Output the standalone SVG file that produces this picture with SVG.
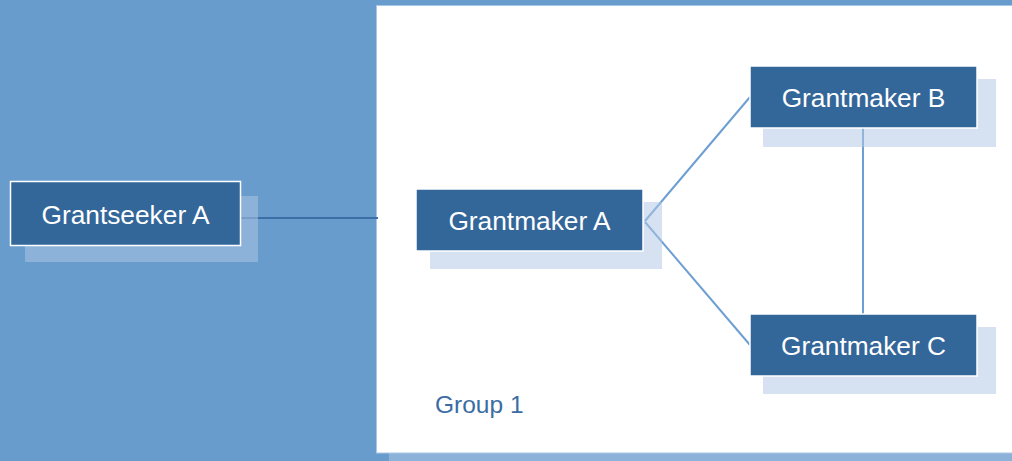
<svg xmlns="http://www.w3.org/2000/svg" width="1012" height="461" viewBox="0 0 1012 461">
<style>
.shadow{fill:#B1C8E4;fill-opacity:0.52}
.box{fill:#336699;stroke:#ffffff;stroke-width:1.5}
.lbl{font-family:"Liberation Sans",Arial,sans-serif;font-size:26.3px;fill:#ffffff;text-anchor:middle}
.conn{stroke:#6E9FD2;stroke-width:2;fill:none}
</style>
<rect x="0" y="0" width="1012" height="461" fill="#689CCD"/>
<g id="group1">
<rect class="shadow" x="389" y="18" width="640" height="448"/>
<rect x="376.5" y="5.5" width="640" height="447.5" fill="#ffffff" stroke="#A9C7E6" stroke-width="1"/>
<text x="435" y="413" style="font-family:'Liberation Sans',Arial,sans-serif;font-size:24.5px;fill:#3A6CA3">Group 1</text>
</g>
<g id="connectors">
<line x1="241" y1="218" x2="378" y2="218" stroke="#3D6FA6" stroke-width="2.2"/>
<line class="conn" x1="645" y1="221" x2="750" y2="97"/>
<line class="conn" x1="645" y1="222" x2="750" y2="345"/>
<line class="conn" x1="863" y1="128" x2="863" y2="314"/>
</g>
<g id="grantseeker-a">
<rect class="shadow" x="25" y="196" width="233" height="66"/>
<rect class="box" x="10.5" y="181.5" width="230" height="64"/>
<text class="lbl" x="125.5" y="223.5">Grantseeker A</text>
</g>
<g id="grantmaker-a">
<rect class="shadow" x="430" y="202" width="232" height="67"/>
<rect class="box" x="416" y="189" width="227" height="62"/>
<text class="lbl" x="529.5" y="229.5">Grantmaker A</text>
</g>
<g id="grantmaker-b">
<rect class="shadow" x="763" y="79" width="233" height="68"/>
<rect class="box" x="750" y="66" width="227" height="62"/>
<text class="lbl" x="863.5" y="106.5">Grantmaker B</text>
</g>
<g id="grantmaker-c">
<rect class="shadow" x="763" y="327" width="233" height="67"/>
<rect class="box" x="750" y="314" width="227" height="62"/>
<text class="lbl" x="863.5" y="354.5">Grantmaker C</text>
</g>
</svg>
